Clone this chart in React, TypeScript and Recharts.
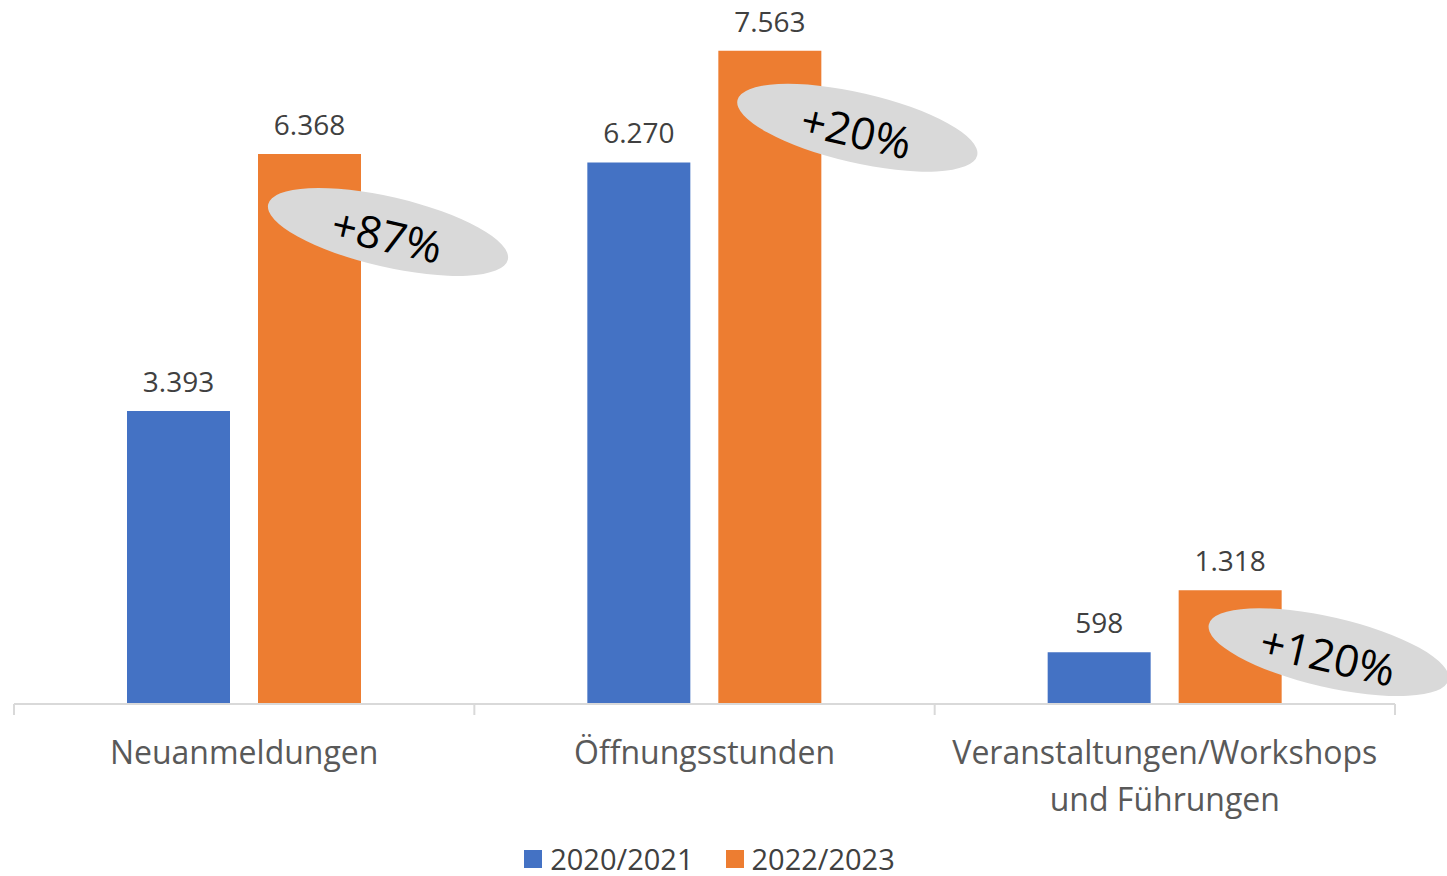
import React from 'react';
import { BarChart, Bar, XAxis, YAxis, Legend, LabelList } from 'recharts';

const categories = ['Neuanmeldungen', 'Öffnungsstunden', 'Veranstaltungen/Workshops\nund Führungen'];
const values2021 = [3393, 6270, 598];
const values2023 = [6368, 7563, 1318];
const growthLabels = ['+87%', '+20%', '+120%'];
const seriesNames = ['2020/2021', '2022/2023'];

const data = categories.map((name, i) => ({ name, a: values2021[i], b: values2023[i], growth: growthLabels[i] }));

const FONT = '"Open Sans", "Noto Sans", sans-serif';
const BLUE = '#4472c4';
const ORANGE = '#ed7d31';
const GRID = '#d9d9d9';

// bubble position relative to the top-right corner of the orange bar
const bubbleShift = [[27, 78], [36, 77], [47, 62]];

const fmt = (v: number) => String(v).replace(/\B(?=(\d{3})+(?!\d))/g, '.');

// category label plus tick marks on the band edges (Excel style)
function CategoryTick({ x, y, payload, index, visibleTicksCount }: any) {
  const lines = String(payload.value).split('\n');
  const half = payload.offset ?? 0;
  const axisY = 704;
  const isLast = index === visibleTicksCount - 1;
  return (
    <g>
      <line x1={x - half} x2={x - half} y1={axisY} y2={axisY + 11} stroke={GRID} strokeWidth={2} />
      {isLast && <line x1={x + half} x2={x + half} y1={axisY} y2={axisY + 11} stroke={GRID} strokeWidth={2} />}
      <text x={x} y={y + 52} textAnchor="middle" fill="#595959" fontSize={32} fontFamily={FONT}>
        {lines.map((l, i) => <tspan key={i} x={x} dy={i === 0 ? 0 : 47}>{l}</tspan>)}
      </text>
    </g>
  );
}

function Bubble(props: any) {
  const { x, y, width, index, value } = props;
  const [dx, dy] = bubbleShift[index] ?? [30, 75];
  const cx = x + width + dx;
  const cy = y + dy;
  return (
    <g transform={`rotate(13 ${cx} ${cy})`}>
      <ellipse cx={cx} cy={cy} rx={123} ry={35} fill="#d9d9d9" />
      <text x={cx} y={cy + 3} textAnchor="middle" dominantBaseline="central" fontSize={44} fontFamily={FONT} fill="#000">{value}</text>
    </g>
  );
}

function LegendContent({ payload }: any) {
  return (
    <div style={{ display: 'flex', justifyContent: 'center', alignItems: 'center', gap: 32, height: 34, fontFamily: FONT, paddingLeft: 10 }}>
      {(payload || []).map((p: any) => (
        <div key={p.value} style={{ display: 'flex', alignItems: 'center', gap: 8 }}>
          <span style={{ width: 18, height: 18, background: p.color, display: 'inline-block' }} />
          <span style={{ fontSize: 29, lineHeight: '30px', color: '#404040' }}>{p.value}</span>
        </div>
      ))}
    </div>
  );
}

export default function App() {
  return (
    <div style={{ position: 'absolute', left: 0, top: 0, width: 1447, height: 876, background: '#fff', overflow: 'hidden' }}>
      <BarChart width={1447} height={876} data={data} margin={{ top: 13, right: 52, left: 14, bottom: 137 }} barSize={103} barGap={28}>
        <XAxis dataKey="name" height={1} axisLine={{ stroke: GRID, strokeWidth: 2 }} tickLine={false} tick={<CategoryTick />} interval={0} />
        <YAxis hide domain={[0, 8000]} />
        <Legend verticalAlign="bottom" content={<LegendContent />} wrapperStyle={{ bottom: 0, height: 34 }} />
        <Bar dataKey="a" name={seriesNames[0]} fill={BLUE} isAnimationActive={false}>
          <LabelList dataKey="a" position="top" offset={19} formatter={(v: any) => fmt(Number(v))} style={{ fontSize: 28, fontFamily: FONT, fill: '#404040' }} />
        </Bar>
        <Bar dataKey="b" name={seriesNames[1]} fill={ORANGE} isAnimationActive={false}>
          <LabelList dataKey="b" position="top" offset={19} formatter={(v: any) => fmt(Number(v))} style={{ fontSize: 28, fontFamily: FONT, fill: '#404040' }} />
          <LabelList dataKey="growth" content={<Bubble />} />
        </Bar>
      </BarChart>
    </div>
  );
}
